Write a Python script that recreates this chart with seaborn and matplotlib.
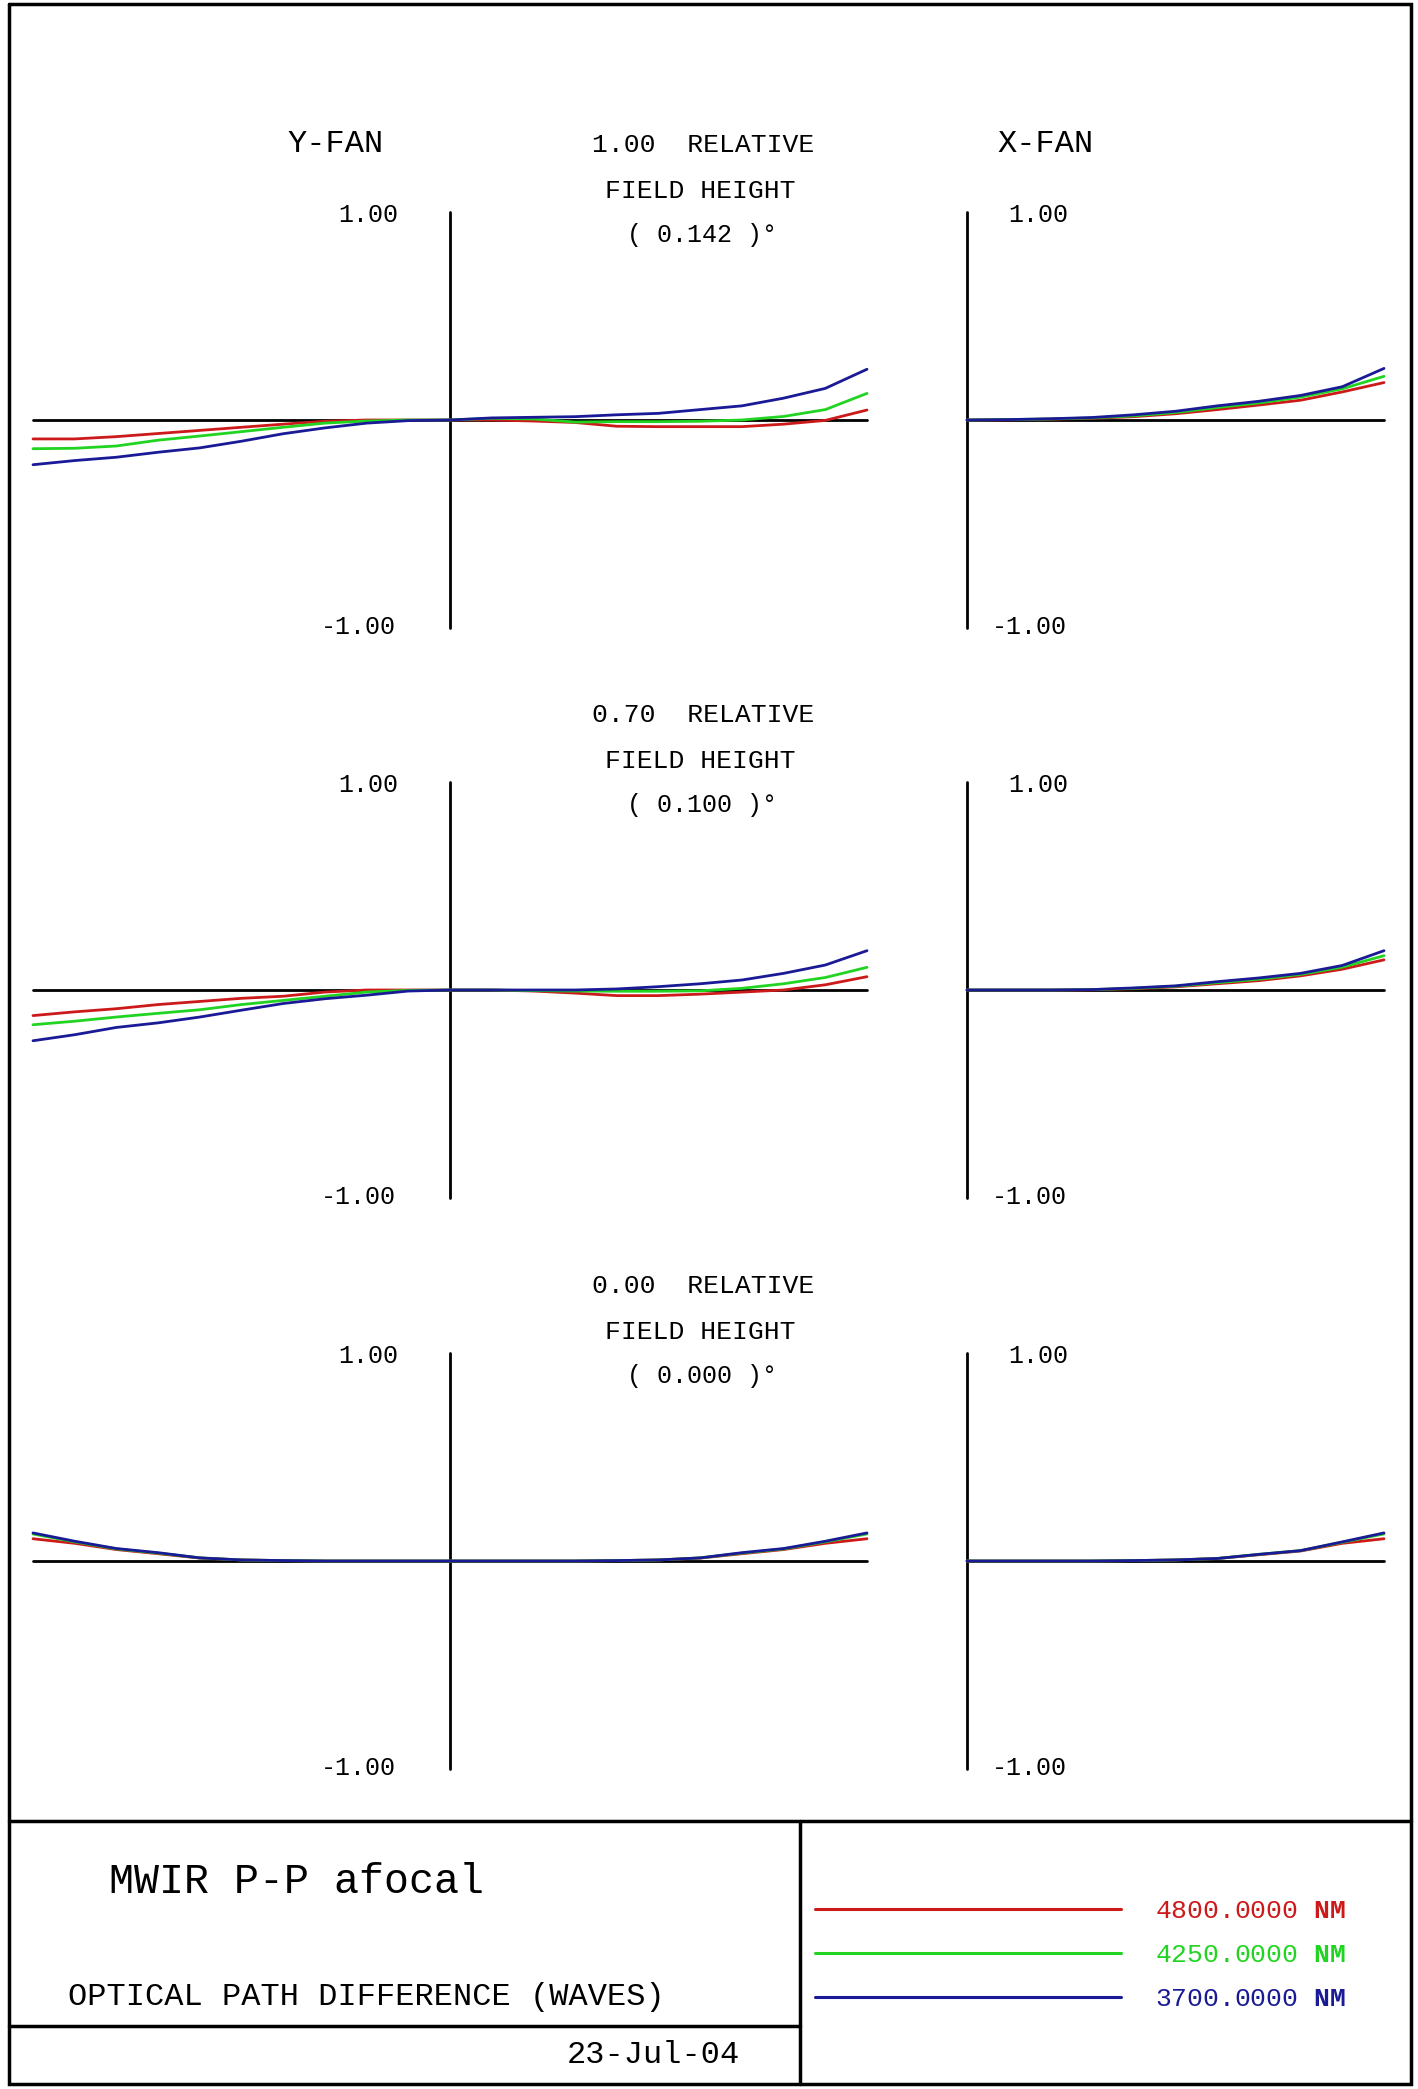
import numpy as np
import pandas as pd
import matplotlib
matplotlib.use("Agg")
import matplotlib.pyplot as plt
import seaborn as sns
from matplotlib.lines import Line2D

# ---------------- data ----------------
WAVELENGTHS = ["4800.0000", "4250.0000", "3700.0000"]
COLORS = ["#cc1a1a", "#22d422", "#1a1a96"]

PUPIL_Y = [-1.0, -0.9, -0.8, -0.7, -0.6, -0.5, -0.4, -0.3, -0.2, -0.1, 0.0,
           0.1, 0.2, 0.3, 0.4, 0.5, 0.6, 0.7, 0.8, 0.9, 1.0]
PUPIL_X = [0.0, 0.1, 0.2, 0.3, 0.4, 0.5, 0.6, 0.7, 0.8, 0.9, 1.0]

FIELD_REL = ["1.00", "0.70", "0.00"]
FIELD_ANG = ["0.142", "0.100", "0.000"]

# row 1 : relative field 1.00
y_red_1 = [-0.091, -0.091, -0.080, -0.065, -0.050, -0.035, -0.020, -0.006, 0.0, 0.0, 0.0,
           0.0, -0.005, -0.012, -0.030, -0.032, -0.032, -0.032, -0.020, -0.002, 0.048]
y_green_1 = [-0.138, -0.136, -0.125, -0.097, -0.077, -0.056, -0.035, -0.015, -0.005, 0.0, 0.0,
             0.008, 0.005, -0.010, -0.008, -0.008, -0.006, 0.0, 0.017, 0.050, 0.128]
y_blue_1 = [-0.215, -0.195, -0.179, -0.155, -0.134, -0.102, -0.066, -0.038, -0.015, -0.003, 0.0,
            0.010, 0.013, 0.016, 0.025, 0.032, 0.050, 0.068, 0.105, 0.152, 0.244]
x_red_1 = [0.0, 0.001, 0.004, 0.008, 0.016, 0.030, 0.050, 0.072, 0.095, 0.135, 0.180]
x_green_1 = [0.0, 0.002, 0.005, 0.010, 0.020, 0.036, 0.060, 0.082, 0.110, 0.150, 0.210]
x_blue_1 = [0.0, 0.002, 0.006, 0.012, 0.025, 0.042, 0.068, 0.090, 0.118, 0.160, 0.248]

# row 2 : relative field 0.70
y_red_2 = [-0.123, -0.105, -0.090, -0.070, -0.055, -0.040, -0.030, -0.010, 0.0, 0.0, 0.0,
           0.0, -0.005, -0.015, -0.027, -0.027, -0.020, -0.010, 0.0, 0.025, 0.064]
y_green_2 = [-0.167, -0.150, -0.130, -0.112, -0.095, -0.070, -0.050, -0.030, -0.010, -0.002, 0.0,
             0.0, -0.003, -0.005, -0.006, -0.006, -0.004, 0.008, 0.030, 0.060, 0.109]
y_blue_2 = [-0.244, -0.215, -0.180, -0.158, -0.130, -0.097, -0.065, -0.042, -0.025, -0.005, 0.0,
            0.0, 0.0, 0.0, 0.005, 0.016, 0.030, 0.048, 0.080, 0.120, 0.189]
x_red_2 = [0.0, 0.0, 0.0, 0.001, 0.006, 0.015, 0.030, 0.045, 0.068, 0.100, 0.145]
x_green_2 = [0.0, 0.0, 0.0, 0.002, 0.008, 0.018, 0.035, 0.052, 0.075, 0.110, 0.165]
x_blue_2 = [0.0, 0.0, 0.0, 0.002, 0.010, 0.020, 0.040, 0.058, 0.080, 0.118, 0.189]

# row 3 : relative field 0.00
y_red_3 = [0.107, 0.085, 0.055, 0.035, 0.014, 0.005, 0.002, 0.0, 0.0, 0.0, 0.0,
           0.0, 0.0, 0.0, 0.002, 0.005, 0.014, 0.035, 0.055, 0.085, 0.107]
y_green_3 = [0.130, 0.092, 0.058, 0.038, 0.015, 0.005, 0.002, 0.0, 0.0, 0.0, 0.0,
             0.0, 0.0, 0.0, 0.002, 0.005, 0.015, 0.038, 0.058, 0.092, 0.130]
y_blue_3 = [0.135, 0.095, 0.060, 0.040, 0.015, 0.005, 0.002, 0.0, 0.0, 0.0, 0.0,
            0.0, 0.0, 0.0, 0.002, 0.005, 0.015, 0.040, 0.060, 0.095, 0.135]
x_red_3 = [0.0, 0.0, 0.0, 0.0, 0.002, 0.005, 0.012, 0.030, 0.048, 0.085, 0.107]
x_green_3 = [0.0, 0.0, 0.0, 0.0, 0.002, 0.005, 0.012, 0.032, 0.050, 0.090, 0.130]
x_blue_3 = [0.0, 0.0, 0.0, 0.0, 0.002, 0.005, 0.012, 0.032, 0.050, 0.092, 0.135]

Y_FANS = [[y_red_1, y_green_1, y_blue_1], [y_red_2, y_green_2, y_blue_2], [y_red_3, y_green_3, y_blue_3]]
X_FANS = [[x_red_1, x_green_1, x_blue_1], [x_red_2, x_green_2, x_blue_2], [x_red_3, x_green_3, x_blue_3]]

TITLE = "MWIR P-P afocal"
SUBTITLE = "OPTICAL PATH DIFFERENCE (WAVES)"
DATE = "23-Jul-04"

# ---------------- style ----------------
W, H = 1418, 2089
sns.set_theme(style="white")
plt.rcParams["font.family"] = ["Liberation Mono", "DejaVu Sans Mono", "DejaVu Sans"]
plt.rcParams["mathtext.fontset"] = "custom"
plt.rcParams["mathtext.rm"] = "Liberation Mono"
plt.rcParams["mathtext.bf"] = "Liberation Mono:bold"

palette = dict(zip(WAVELENGTHS, COLORS))

fig = plt.figure(figsize=(W / 100, H / 100), dpi=100)
fig.patch.set_facecolor("white")

overlay = fig.add_axes([0, 0, 1, 1])
overlay.set_xlim(0, W)
overlay.set_ylim(H, 0)
overlay.set_axis_off()


def rect(x0, y0, w, h):
    return [x0 / W, 1 - (y0 + h) / H, w / W, h / H]


def long_df(pupil, series):
    frames = []
    for wl, vals in zip(WAVELENGTHS, series):
        frames.append(pd.DataFrame({"pupil": pupil, "opd": vals, "wavelength": wl}))
    return pd.concat(frames, ignore_index=True)


ROW_CENTERS = [420, 990, 1561]
HALF = 208
UNIT = 417
Y_LEFT = 33
X_LEFT = 967
AX_LW = 2.0
TXT = "black"
FW = "normal"

for r, c in enumerate(ROW_CENTERS):
    # Y-FAN
    axy = fig.add_axes(rect(Y_LEFT, c - HALF, 2 * UNIT, 2 * HALF))
    axy.patch.set_alpha(0)
    axy.axhline(0, color="black", lw=AX_LW, zorder=1, clip_on=False)
    axy.axvline(0, color="black", lw=AX_LW, zorder=1, clip_on=False)
    sns.lineplot(data=long_df(PUPIL_Y, Y_FANS[r]), x="pupil", y="opd", hue="wavelength",
                 hue_order=WAVELENGTHS, palette=palette, ax=axy, legend=False,
                 estimator=None, sort=False, linewidth=2.0)
    axy.set_xlim(-1, 1)
    axy.set_ylim(-1, 1)
    axy.set_axis_off()
    for ln in axy.lines:
        ln.set_clip_on(False)

    # X-FAN
    axx = fig.add_axes(rect(X_LEFT, c - HALF, UNIT, 2 * HALF))
    axx.patch.set_alpha(0)
    axx.axhline(0, color="black", lw=AX_LW, zorder=1, clip_on=False)
    axx.axvline(0, color="black", lw=AX_LW, zorder=1, clip_on=False)
    sns.lineplot(data=long_df(PUPIL_X, X_FANS[r]), x="pupil", y="opd", hue="wavelength",
                 hue_order=WAVELENGTHS, palette=palette, ax=axx, legend=False,
                 estimator=None, sort=False, linewidth=2.0)
    axx.set_xlim(0, 1)
    axx.set_ylim(-1, 1)
    axx.set_axis_off()
    for ln in axx.lines:
        ln.set_clip_on(False)

    # tick labels
    top, bot = c - HALF, c + HALF
    overlay.text(Y_LEFT + UNIT - 52, top + 3, "1.00", ha="right", va="center", fontsize=18, color=TXT, fontweight=FW)
    overlay.text(Y_LEFT + UNIT - 54, bot - 1, "-1.00", ha="right", va="center", fontsize=18, color=TXT, fontweight=FW)
    overlay.text(X_LEFT + 101, top + 3, "1.00", ha="right", va="center", fontsize=18, color=TXT, fontweight=FW)
    overlay.text(X_LEFT + 100, bot - 1, "-1.00", ha="right", va="center", fontsize=18, color=TXT, fontweight=FW)

    # field titles
    overlay.text(703, c - 275, f"{FIELD_REL[r]}  RELATIVE", ha="center", va="center", fontsize=19, color=TXT, fontweight=FW)
    overlay.text(700, c - 229, "FIELD HEIGHT", ha="center", va="center", fontsize=19, color=TXT, fontweight=FW)
    overlay.text(702, c - 185, f"( {FIELD_ANG[r]} )°", ha="center", va="center", fontsize=18, color=TXT, fontweight=FW)

overlay.text(336, 144, "Y-FAN", ha="center", va="center", fontsize=23, color=TXT, fontweight=FW)
overlay.text(1046, 144, "X-FAN", ha="center", va="center", fontsize=23, color=TXT, fontweight=FW)

# ---------------- frame / title block ----------------
BLW = 2.5
L, R, T, B = 9, 1411, 4, 2084
overlay.plot([L, R, R, L, L], [T, T, B, B, T], color="black", lw=BLW, solid_joinstyle="miter")
overlay.plot([L, R], [1821, 1821], color="black", lw=BLW)
overlay.plot([800, 800], [1821, B], color="black", lw=BLW)
overlay.plot([L, 800], [2026, 2026], color="black", lw=BLW)

overlay.text(109, 1882, TITLE, ha="left", va="center", fontsize=30, color=TXT)
overlay.text(68, 1997, SUBTITLE, ha="left", va="center", fontsize=23, color=TXT, fontweight=FW)
overlay.text(653, 2055, DATE, ha="center", va="center", fontsize=23, color=TXT, fontweight=FW)

# legend
handles = [Line2D([], [], color=col, lw=2.2) for col in COLORS]
labels = [f"{wl} $\\mathbf{{NM}}$" for wl in WAVELENGTHS]
leg = overlay.legend(handles, labels, loc="center left",
                     bbox_to_anchor=(815 / W, 1 - 1955 / H), bbox_transform=fig.transFigure,
                     frameon=False, fontsize=19, handlelength=11.6, handletextpad=1.3,
                     labelspacing=0.75, borderpad=0, borderaxespad=0, labelcolor="linecolor")

fig.savefig("out.png", dpi=100, facecolor="white")
